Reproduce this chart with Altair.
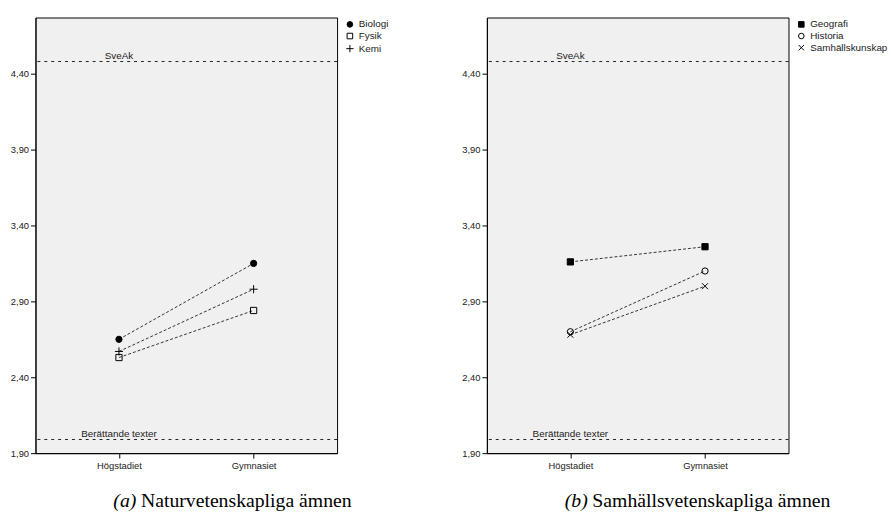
import altair as alt
import pandas as pd

# School levels on the x axis
levels = ["Högstadiet", "Gymnasiet"]

# Natural science subjects: mean score per level
nat_subjects = ["Biologi", "Fysik", "Kemi"]
biologi = [2.65, 3.15]
fysik = [2.53, 2.84]
kemi = [2.57, 2.98]

# Social science subjects: mean score per level
soc_subjects = ["Geografi", "Historia", "Samhällskunskap"]
geografi = [3.16, 3.26]
historia = [2.70, 3.10]
samhallskunskap = [2.68, 3.00]

# Reference levels drawn as dotted horizontal lines
ref_labels = ["SveAk", "Berättande texter"]
ref_values = [4.48, 1.99]

# Y axis ticks
y_ticks = [1.90, 2.40, 2.90, 3.40, 3.90, 4.40]
y_domain = [1.90, 4.77]

# Panel captions
tags = ["(a)", "(b)"]
captions = ["Naturvetenskapliga ämnen", "Samhällsvetenskapliga ämnen"]

PLUS = "M-1.3,0L1.3,0M0,-1.3L0,1.3"
XMARK = "M-0.95,-0.95L0.95,0.95M-0.95,0.95L0.95,-0.95"

W, H = 306, 442
AXIS_FONT = "Liberation Sans"


def long_table(subjects, series):
    rows = []
    for s, vals in zip(subjects, series):
        for lvl, v in zip(levels, vals):
            rows.append({"level": lvl, "subject": s, "value": v})
    return pd.DataFrame(rows)


def panel(df, subjects, shapes, fills, tag, caption):
    x = alt.X("level:N", sort=levels, title=None,
              scale=alt.Scale(type="point", domain=levels, padding=0.62),
              axis=alt.Axis(labelAngle=0, ticks=True, tickSize=5, tickColor="black",
                            domainColor="black", labelFont=AXIS_FONT, labelFontSize=9.5,
                            labelColor="#222", labelPadding=3))
    y = alt.Y("value:Q", title=None,
              scale=alt.Scale(domain=y_domain, nice=False, zero=False),
              axis=alt.Axis(values=y_ticks, grid=False, tickSize=5, tickColor="black",
                            domainColor="black", labelFont=AXIS_FONT, labelFontSize=9.5,
                            labelColor="#222", labelPadding=2,
                            labelExpr="replace(format(datum.value, '.2f'), '.', ',')"))

    legend = alt.Legend(title=None, orient="right", offset=6, padding=2,
                        labelFont=AXIS_FONT, labelFontSize=10, labelColor="#222",
                        symbolSize=32, symbolStrokeWidth=1,
                        rowPadding=1.8, labelOffset=4)

    base = alt.Chart(df)

    lines = base.mark_line(color="#333", strokeWidth=1, strokeDash=[3, 2]).encode(
        x=x, y=y, detail="subject:N")

    points = base.mark_point(filled=False, strokeWidth=1, size=40, opacity=1).encode(
        x=x, y=y,
        shape=alt.Shape("subject:N", scale=alt.Scale(domain=subjects, range=shapes),
                        legend=legend),
        fill=alt.Fill("subject:N", scale=alt.Scale(domain=subjects, range=fills),
                      legend=legend),
        stroke=alt.Stroke("subject:N",
                          scale=alt.Scale(domain=subjects, range=["black"] * len(subjects)),
                          legend=legend),
    )

    ref_df = pd.DataFrame({"label": ref_labels, "value": ref_values,
                           "level": [levels[0]] * len(ref_labels)})
    rules = alt.Chart(ref_df).mark_rule(color="#222", strokeWidth=1,
                                        strokeDash=[3, 4]).encode(y=y)
    ref_text = alt.Chart(ref_df).mark_text(font=AXIS_FONT, fontSize=10, color="#222",
                                           baseline="bottom", dy=-1).encode(
        x=x, y=y, text="label:N")

    cap_df = pd.DataFrame({"tag": [tag], "caption": [caption]})
    cap_tag = alt.Chart(cap_df).mark_text(font="Liberation Serif", fontSize=20,
                                          fontStyle="italic", align="left",
                                          baseline="alphabetic", color="black").encode(
        text="tag:N", x=alt.value(79), y=alt.value(497))
    cap_text = alt.Chart(cap_df).mark_text(font="Liberation Serif", fontSize=20,
                                           align="left", baseline="alphabetic",
                                           color="black").encode(
        text="caption:N", x=alt.value(107), y=alt.value(497))

    return alt.layer(rules, ref_text, lines, points, cap_tag, cap_text).properties(
        width=W, height=H)


nat_df = long_table(nat_subjects, [biologi, fysik, kemi])
soc_df = long_table(soc_subjects, [geografi, historia, samhallskunskap])

left = panel(nat_df, nat_subjects, ["circle", "square", PLUS],
             ["black", "transparent", "transparent"], tags[0], captions[0])
right = panel(soc_df, soc_subjects, ["square", "circle", XMARK],
              ["black", "transparent", "transparent"], tags[1], captions[1])

chart = alt.hconcat(left, right, spacing=70).resolve_scale(
    shape="independent", fill="independent", stroke="independent",
    x="independent", y="independent"
).resolve_legend(
    shape="independent", fill="independent", stroke="independent"
).properties(
    padding={"left": 10, "top": 13, "right": 0, "bottom": 0},
    background="white",
).configure_view(
    fill="#f0f0f0", stroke="black", strokeWidth=1
)

chart.save("out.html", embed_options={"renderer": "svg", "actions": False})
